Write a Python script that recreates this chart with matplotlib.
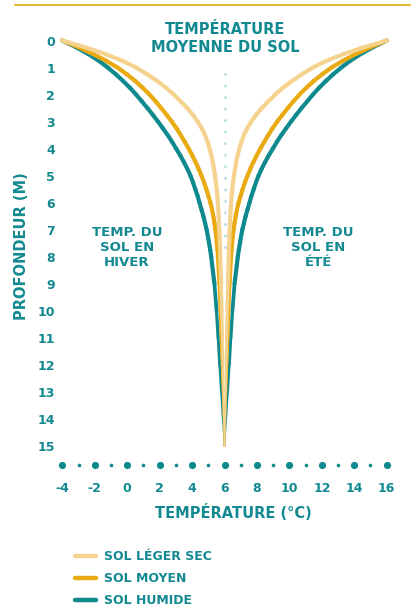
import matplotlib
matplotlib.use("Agg")
import matplotlib.pyplot as plt
import numpy as np
from matplotlib.collections import LineCollection
from matplotlib.lines import Line2D

# ---------------- data ----------------
depth = [0, 0.25, 0.5, 0.75, 1, 1.25, 1.5, 1.75, 2, 2.25, 2.5, 2.75, 3, 3.25, 3.5, 3.75,
         4, 4.25, 4.5, 4.75, 5, 5.25, 5.5, 5.75, 6, 6.25, 6.5, 6.75, 7, 7.25, 7.5, 7.75,
         8, 9, 10, 11, 12, 13, 14, 15]

hiver_humide = [-4, -3.15, -2.4, -1.75, -1.2, -0.7, -0.25, 0.17, 0.55, 0.9, 1.25, 1.58,
                1.9, 2.2, 2.5, 2.77, 3.02, 3.27, 3.5, 3.71, 3.9, 4.06, 4.2, 4.34, 4.46,
                4.58, 4.7, 4.8, 4.9, 4.98, 5.05, 5.12, 5.18, 5.38, 5.51, 5.61, 5.7, 5.8,
                5.9, 6]
ete_humide = [16, 15.15, 14.4, 13.75, 13.2, 12.7, 12.25, 11.83, 11.45, 11.1, 10.75, 10.42,
              10.1, 9.8, 9.5, 9.23, 8.98, 8.73, 8.5, 8.29, 8.1, 7.94, 7.8, 7.66, 7.54,
              7.42, 7.3, 7.2, 7.1, 7.02, 6.95, 6.88, 6.82, 6.62, 6.49, 6.39, 6.3, 6.2,
              6.1, 6]
hiver_moyen = [-4, -3.0, -2.1, -1.3, -0.6, -0.02, 0.5, 0.96, 1.38, 1.75, 2.1, 2.43, 2.75,
               3.04, 3.3, 3.55, 3.79, 4.01, 4.22, 4.41, 4.58, 4.74, 4.88, 5.01, 5.13,
               5.23, 5.31, 5.38, 5.44, 5.49, 5.53, 5.57, 5.6, 5.69, 5.75, 5.8, 5.85,
               5.9, 5.95, 6]
ete_moyen = [16, 15.0, 14.1, 13.3, 12.6, 12.02, 11.5, 11.04, 10.62, 10.25, 9.9, 9.57, 9.25,
             8.96, 8.7, 8.45, 8.21, 7.99, 7.78, 7.59, 7.42, 7.26, 7.12, 6.99, 6.87, 6.77,
             6.69, 6.62, 6.56, 6.51, 6.47, 6.43, 6.4, 6.31, 6.25, 6.2, 6.15, 6.1, 6.05, 6]
hiver_leger = [-4, -2.6, -1.35, -0.3, 0.55, 1.23, 1.85, 2.4, 2.87, 3.3, 3.7, 4.05, 4.35,
               4.6, 4.8, 4.96, 5.08, 5.19, 5.28, 5.35, 5.42, 5.47, 5.52, 5.56, 5.59,
               5.62, 5.64, 5.66, 5.68, 5.7, 5.71, 5.73, 5.74, 5.79, 5.83, 5.87, 5.9,
               5.93, 5.96, 6]
ete_leger = [16, 14.6, 13.35, 12.3, 11.45, 10.77, 10.15, 9.6, 9.13, 8.7, 8.3, 7.95, 7.65,
             7.4, 7.2, 7.04, 6.92, 6.81, 6.72, 6.65, 6.58, 6.53, 6.48, 6.44, 6.41, 6.38,
             6.36, 6.34, 6.32, 6.3, 6.29, 6.27, 6.26, 6.21, 6.17, 6.13, 6.1, 6.07, 6.04, 6]

temp_moyenne = 6
dotted_depth = [1.25, 8]

x_ticks = [-4, -2, 0, 2, 4, 6, 8, 10, 12, 14, 16]
x_minor = [-3, -1, 1, 3, 5, 7, 9, 11, 13, 15]
y_ticks = list(range(0, 16))

series_labels = ["SOL LÉGER SEC", "SOL MOYEN", "SOL HUMIDE"]

# ---------------- style ----------------
TEAL = "#0E8A8F"
TEXT = "#128990"
GOLD = "#E9AA12"
LIGHT = "#F5D38F"
DOT = "#C3E0E6"
FONT = "DejaVu Sans"

W, H = 411, 611
fig = plt.figure(figsize=(W / 100, H / 100), dpi=100)
fig.patch.set_facecolor("white")

ax = fig.add_axes([62.3 / W, 1 - 446 / H, 324.4 / W, 405.5 / H])
ax.set_xlim(-4, 16)
ax.set_ylim(15, 0)
for s in ax.spines.values():
    s.set_visible(False)
ax.set_facecolor("none")

# dotted mean line
ax.plot([temp_moyenne, temp_moyenne], dotted_depth, color=DOT, lw=2.3,
        linestyle=(0, (0.01, 3.6)), dash_capstyle="round", zorder=1, clip_on=False)


def tapered(xs, ys, color, z):
    pts = np.column_stack([xs, ys])
    segs = np.stack([pts[:-1], pts[1:]], axis=1)
    mid = (np.array(ys[:-1]) + np.array(ys[1:])) / 2
    widths = np.where(mid < 8.5, 3.0, 3.0 - (mid - 8.5) / 6.5 * 2.0)
    lc = LineCollection(segs, colors=color, linewidths=widths, capstyle="round",
                        joinstyle="round", zorder=z, clip_on=False)
    ax.add_collection(lc)


series = [
    (hiver_humide, ete_humide, TEAL, 3),
    (hiver_moyen, ete_moyen, GOLD, 4),
    (hiver_leger, ete_leger, LIGHT, 5),
]
for hv, et, col, z in series:
    tapered(hv, depth, col, z)
    tapered(et, depth, col, z)

# bottom dotted axis
xt = ax.get_xaxis_transform()
ax.plot(x_ticks, [-0.047] * len(x_ticks), "o", color=TEAL, ms=5.2, mew=0,
        transform=xt, clip_on=False)
ax.plot(x_minor, [-0.047] * len(x_minor), "o", color=TEAL, ms=2.6, mew=0,
        transform=xt, clip_on=False)

# ticks
ax.set_xticks(x_ticks)
ax.set_xticklabels([str(v) for v in x_ticks])
ax.set_yticks(y_ticks)
ax.set_yticklabels([str(v) for v in y_ticks])
ax.tick_params(axis="x", length=0, pad=26, labelsize=9, labelcolor=TEXT)
ax.tick_params(axis="y", length=0, pad=5.3, labelsize=9, labelcolor=TEXT)
for lab in ax.get_xticklabels() + ax.get_yticklabels():
    lab.set_fontweight("bold")
    lab.set_fontfamily(FONT)

# labels / titles
fig.text(21 / W, 1 - 246 / H, "PROFONDEUR (M)", rotation=90, ha="center", va="center",
         fontsize=10.5, fontweight="bold", color=TEXT, family=FONT)
fig.text(233 / W, 1 - 512 / H, "TEMPÉRATURE (°C)", ha="center", va="center",
         fontsize=10.5, fontweight="bold", color=TEXT, family=FONT)
fig.text(225 / W, 1 - 39 / H, "TEMPÉRATURE\nMOYENNE DU SOL", ha="center", va="center",
         multialignment="center", linespacing=1.25,
         fontsize=10.5, fontweight="bold", color=TEXT, family=FONT)
fig.text(127 / W, 1 - 247.5 / H, "TEMP. DU\nSOL EN\nHIVER", ha="center", va="center",
         multialignment="center", linespacing=1.2,
         fontsize=9.5, fontweight="bold", color=TEXT, family=FONT)
fig.text(318 / W, 1 - 247.5 / H, "TEMP. DU\nSOL EN\nÉTÉ", ha="center", va="center",
         multialignment="center", linespacing=1.2,
         fontsize=9.5, fontweight="bold", color=TEXT, family=FONT)

# top rule
fig.add_artist(Line2D([15 / W, 1], [1 - 4.5 / H, 1 - 4.5 / H], color=GOLD, lw=1.2,
                      transform=fig.transFigure))

# legend
handles = [Line2D([], [], color=c, lw=3.2, solid_capstyle="round")
           for c in (LIGHT, GOLD, TEAL)]
leg = fig.legend(handles, series_labels, loc="upper left",
                 bbox_to_anchor=(75 / W, 1 - 550.5 / H), frameon=False,
                 borderpad=0, borderaxespad=0, handlelength=1.7, handletextpad=0.6,
                 labelspacing=0.72, prop={"family": FONT, "weight": "bold", "size": 9})
for t in leg.get_texts():
    t.set_color(TEXT)

fig.savefig("out.png", dpi=100, facecolor="white")
